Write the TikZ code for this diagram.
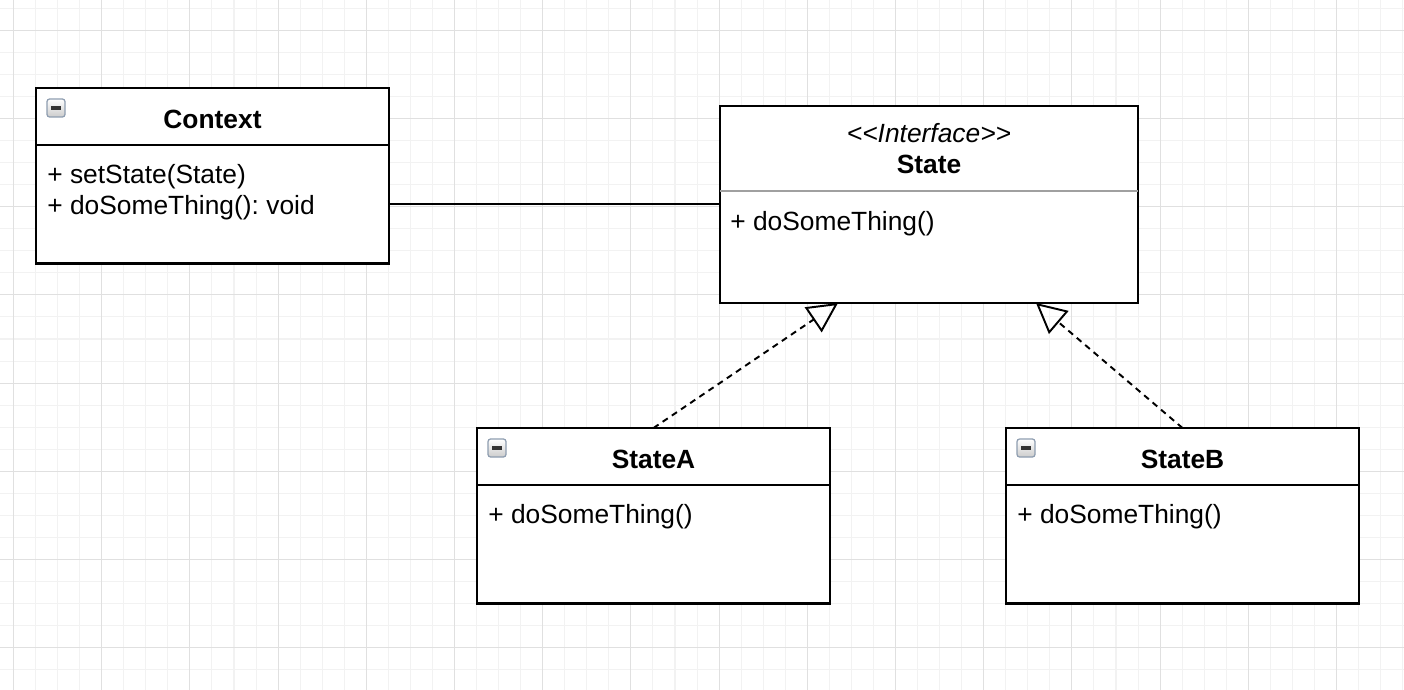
\documentclass[tikz,border=0pt]{standalone}
\usepackage{fontspec}
\newfontfamily\uifont{Liberation Sans}
\usepackage{tikz}
\usetikzlibrary{arrows.meta}
\usetikzlibrary{positioning}
\definecolor{gridminor}{HTML}{F2F2F2}
\definecolor{gridmajor}{HTML}{E0E0E0}
\definecolor{iconframe}{HTML}{8E9DB0}
\definecolor{divider}{HTML}{A0A0A0}
\tikzset{>=latex}
\newcommand\classwidth{7.06cm}
\newcommand\classheadht{1.14cm}
\newcommand\classbodyht{2.37cm}
\newcommand\ifacewidth{8.36cm}
\newcommand\uisize{\fontsize{15}{17.6}\selectfont\frenchspacing}
\tikzset{
    box/.style={draw, line width=1.2pt, fill=white, outer sep=0pt, inner sep=0pt},
    classhead/.style={box, minimum width=\classwidth, minimum height=\classheadht, text height=0.49cm, font=\uifont\uisize\bfseries},
    classbody/.style={box, minimum width=\classwidth, minimum height=\classbodyht},
    ifacehead/.style={fill=white, outer sep=0pt, inner sep=0pt, minimum width=\ifacewidth, minimum height=1.7cm, align=center, font=\uifont\uisize},
    ifacebody/.style={fill=white, outer sep=0pt, inner sep=0pt, minimum width=\ifacewidth, minimum height=2.24cm},
    ops/.style={inner sep=0pt, align=left, font=\uifont\uisize},
}
\tikzset{
    assoc/.style={line width=1.2pt},
    realize/.style={line width=1.1pt, dash pattern=on 3.5pt off 2.8pt, -{Triangle[open, length=0.6cm, width=0.6cm]}},
    collapse/.style={draw=iconframe, line width=0.7pt, rounded corners=1.5pt, minimum size=0.36cm, inner sep=0pt,
        top color=white, bottom color=gray!40,
        path picture={
            \draw[line width=2pt, black!80] ([xshift=-0.1cm]path picture bounding box.center) -- ([xshift=0.1cm]path picture bounding box.center);
        }
    }
}
\begin{document}
\begin{tikzpicture}
\useasboundingbox[fill=white] (0,0) rectangle (28.08,-13.8);
\begin{scope}[shift={(0.27,-0.606)}]
    \draw[gridminor, line width=0.6pt, step=0.441cm] (-0.27,-13.194) grid (27.81,0.606);
    \draw[gridmajor, line width=0.6pt, step=1.764cm] (-0.27,-13.194) grid (27.81,0.606);
\end{scope}
\node(ctxhead)[classhead] at (4.25,-2.33) {Context};
\node(ctxbody)[classbody, below=0pt of ctxhead] {};
\node(ctxops)[ops, below right=0.38cm and 0.22cm of ctxbody.north west] {+ setState(State)\\+ doSomeThing(): void};
\node(ctxicon)[collapse] at ([shift={(0.4,-0.4)}]ctxhead.north west) {};
\node(sthead)[ifacehead, below right=0.36cm and 6.62cm of ctxhead.north east] {\textit{<<Interface>>}\\\textbf{State}};
\node(stbody)[ifacebody, below=0pt of sthead] {};
\draw[line width=1.2pt] (sthead.north west) rectangle (stbody.south east);
\draw[divider, line width=0.8pt] (sthead.south west) -- (sthead.south east);
\node(stops)[ops, below right=0.4cm and 0.2cm of stbody.north west] {+ doSomeThing()};
\node(sahead)[classhead, below=2.5cm of stbody.south, xshift=-5.51cm] {StateA};
\node(sabody)[classbody, below=0pt of sahead] {};
\node(saops)[ops, below right=0.38cm and 0.22cm of sabody.north west] {+ doSomeThing()};
\node(saicon)[collapse] at ([shift={(0.4,-0.4)}]sahead.north west) {};
\node(sbhead)[classhead, below=2.5cm of stbody.south, xshift=5.07cm] {StateB};
\node(sbbody)[classbody, below=0pt of sbhead] {};
\node(sbops)[ops, below right=0.38cm and 0.22cm of sbbody.north west] {+ doSomeThing()};
\node(sbicon)[collapse] at ([shift={(0.4,-0.4)}]sbhead.north west) {};
\coordinate(tipA) at ([xshift=-1.82cm]stbody.south);
\coordinate(tipB) at ([xshift=2.14cm]stbody.south);
\draw[assoc] (ctxbody.east) -- (ctxbody.east -| stbody.west);
\draw[realize] (sahead.north) -- (tipA);
\draw[realize] (sbhead.north) -- (tipB);
\end{tikzpicture}
\end{document}
